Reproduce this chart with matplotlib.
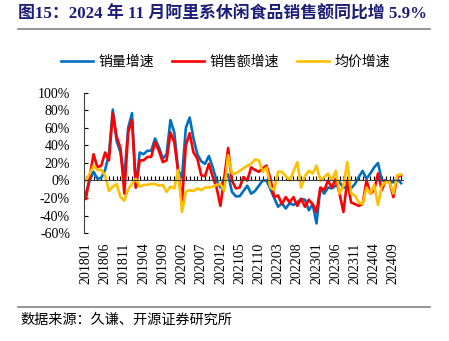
import numpy as np
import pandas as pd
import matplotlib
matplotlib.use("Agg")
import matplotlib.pyplot as plt
from matplotlib.lines import Line2D
from matplotlib.ticker import FuncFormatter, MultipleLocator

plt.rcParams['font.family'] = ['Liberation Serif', 'Noto Sans CJK SC', 'DejaVu Sans']
plt.rcParams['axes.unicode_minus'] = False

# 月份 201801 - 202411
months = pd.period_range('2018-01', '2024-11', freq='M').strftime('%Y%m').tolist()

# 销量增速 (%)
volume = [-15, 0, 10, 2, 3, 12, 30, 81, 45, 32,
          3, 60, 77, -8, 32, 30, 34, 34, 48, 38,
          25, 30, 69, 55, 12, 3, 60, 72, 48, 30,
          22, 19, 28, 15, 0, -8, 3, 7, -13, -18,
          -18, -12, -6, -15, -12, -6, 0, 0, -10, -20,
          -30, -26, -32, -26, -28, -25, -21, -22, -34, -27,
          -49, -9, -15, -8, -9, -6, -2, -8, -8, -9,
          -4, 4, 11, 2, 8, 15, 20, 0, 0, -2,
          -2, 2, -3]
# 销售额增速 (%)
sales = [-21, 5, 30, 15, 17, 32, 23, 77, 50, 37,
         -15, 55, 69, -8, 23, 23, 27, 27, 44, 34,
         21, 23, 55, 44, 10, -25, 40, 54, 32, 25,
         6, 5, 19, 4, -8, -29, 3, 37, 0, -9,
         -8, 4, 0, 15, 12, 10, 14, 17, 2, -19,
         -17, -27, -19, -25, -19, -29, -21, -30, -22, -27,
         -36, -8, -11, 0, -8, 2, -15, -36, 0, -25,
         -27, -29, -27, 0, -15, -11, 8, -11, 0, -2,
         -19, 4, 5.9]
# 均价增速 (%)
price = [0, 8, 17, 12, 12, 6, -12, -7, -4, -19,
         -23, -10, -4, 2, -7, -5, -5, -4, -4, -6,
         -5, -13, -7, -9, 12, -36, -13, -11, -12, -9,
         -11, -8, -8, -7, -5, -4, -12, 29, 8, 8,
         11, 14, 17, 19, 24, 23, 10, 15, -8, -11,
         10, 10, 5, 0, 10, 21, -8, 5, 11, 8,
         17, 0, 4, 8, 0, 11, -15, -6, 21, -15,
         -17, -25, -27, -8, -15, -5, -28, -6, -2, -2,
         -15, 6, 7]

series_names = ['销量增速', '销售额增速', '均价增速']
colors = ['#0070C0', '#FF0000', '#FFC000']

fig = plt.figure(figsize=(4.49, 3.41), dpi=100)
ax = fig.add_axes([0.187, 0.3167, 0.7105, 0.4106])

x = np.arange(len(months))
for vals, name, c in zip([volume, sales, price], series_names, colors):
    ax.plot(x, vals, color=c, lw=1.9, label=name, solid_joinstyle='round')

ax.set_xlim(-0.5, len(months) - 0.5)
ax.set_ylim(-60, 100)
ax.yaxis.set_major_locator(MultipleLocator(20))
ax.yaxis.set_major_formatter(FuncFormatter(lambda v, p: f"{int(round(v))}%"))
ax.tick_params(axis='y', direction='in', length=3, width=0.8, pad=10,
               labelsize=10, colors='black')

for s in ['top', 'right']:
    ax.spines[s].set_visible(False)
ax.spines['left'].set_color('#404040')
ax.spines['bottom'].set_position(('data', 0))
ax.spines['bottom'].set_color('#404040')
ax.set_xticks(x)
ax.tick_params(axis='x', direction='in', length=3, width=0.8, labelbottom=False)

sec = ax.secondary_xaxis('bottom')
sec.set_xticks(x[::5])
sec.set_xticklabels(months[::5], rotation=90, fontsize=10)
sec.tick_params(length=0, pad=7)
sec.spines['bottom'].set_visible(False)

fig.legend(loc='center', bbox_to_anchor=(0.502, 0.818), ncol=3, frameon=False,
           handlelength=2.3, handletextpad=0.4, columnspacing=1.3,
           prop={'family': ['Noto Sans CJK SC'], 'size': 10})

fig.text(0.04, 0.958, '图15：2024 年 11 月阿里系休闲食品销售额同比增 5.9%',
         fontsize=12.2, fontweight='bold', color='#1E1E78', va='center', ha='left')
fig.add_artist(Line2D([0.04, 0.958], [0.915, 0.915], color='#8C8C8C', lw=1.3))
fig.add_artist(Line2D([0.04, 0.958], [0.1, 0.1], color='#8C8C8C', lw=1.3))
fig.text(0.045, 0.062, '数据来源：久谦、开源证券研究所',
         fontsize=10.2, family=['Noto Sans CJK SC'], va='center', ha='left')

fig.savefig('out.png', dpi=100)
